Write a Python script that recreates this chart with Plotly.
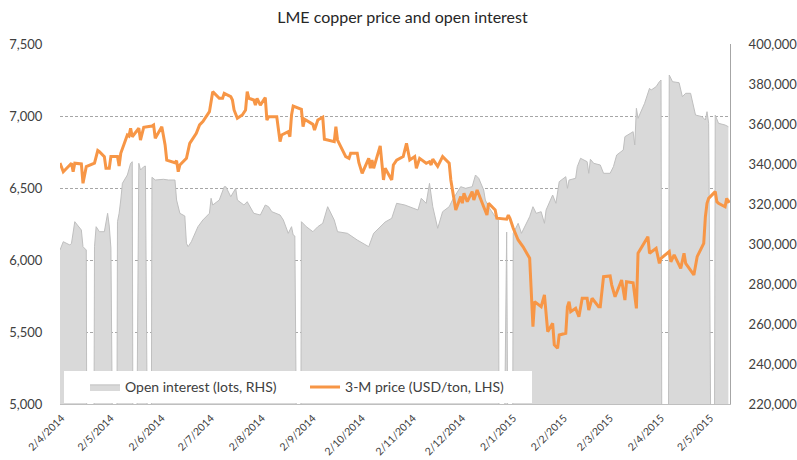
import plotly.graph_objects as go

# Open interest (lots), zeros on exchange holidays
oi_dates = [
    "2014-04-01", "2014-04-03", "2014-04-07", "2014-04-08", "2014-04-10", "2014-04-14", "2014-04-15", "2014-04-17",
    "2014-04-18", "2014-04-21",
    "2014-04-22", "2014-04-23", "2014-04-25", "2014-04-28", "2014-04-30", "2014-05-01", "2014-05-02",
    "2014-05-05",
    "2014-05-06", "2014-05-07", "2014-05-08", "2014-05-09", "2014-05-12", "2014-05-14", "2014-05-15",
    "2014-05-16",
    "2014-05-19", "2014-05-20", "2014-05-22", "2014-05-23",
    "2014-05-26",
    "2014-05-27", "2014-05-29", "2014-06-03", "2014-06-06", "2014-06-10", "2014-06-11", "2014-06-13",
    "2014-06-16", "2014-06-17", "2014-06-18", "2014-06-20", "2014-06-24", "2014-06-27", "2014-07-01",
    "2014-07-02", "2014-07-03", "2014-07-07", "2014-07-10", "2014-07-11", "2014-07-14", "2014-07-17",
    "2014-07-18", "2014-07-22", "2014-07-24", "2014-07-28", "2014-08-01", "2014-08-04", "2014-08-06",
    "2014-08-08", "2014-08-13", "2014-08-15", "2014-08-18", "2014-08-20", "2014-08-21", "2014-08-22",
    "2014-08-25",
    "2014-08-26", "2014-08-29", "2014-09-02", "2014-09-05", "2014-09-08", "2014-09-11", "2014-09-15",
    "2014-09-17", "2014-09-23", "2014-09-29", "2014-10-06", "2014-10-09", "2014-10-13", "2014-10-16",
    "2014-10-20", "2014-10-23", "2014-10-28", "2014-11-03", "2014-11-05", "2014-11-07", "2014-11-10",
    "2014-11-12", "2014-11-14", "2014-11-17", "2014-11-20", "2014-11-24", "2014-11-26", "2014-12-01",
    "2014-12-04", "2014-12-08", "2014-12-10", "2014-12-12", "2014-12-15", "2014-12-16", "2014-12-18",
    "2014-12-22", "2014-12-24",
    "2014-12-25", "2014-12-26",
    "2014-12-29",
    "2014-12-30", "2014-12-31", "2015-01-01",
    "2015-01-02", "2015-01-05", "2015-01-07", "2015-01-12", "2015-01-14", "2015-01-16", "2015-01-19",
    "2015-01-21", "2015-01-22", "2015-01-26", "2015-01-28", "2015-01-30", "2015-02-03", "2015-02-04",
    "2015-02-05", "2015-02-09", "2015-02-10", "2015-02-12", "2015-02-16", "2015-02-17", "2015-02-18",
    "2015-02-20", "2015-02-24", "2015-02-26", "2015-03-02", "2015-03-04", "2015-03-06", "2015-03-10",
    "2015-03-11", "2015-03-16", "2015-03-17", "2015-03-18", "2015-03-19", "2015-03-23", "2015-03-26",
    "2015-03-27", "2015-03-30", "2015-04-01", "2015-04-02",
    "2015-04-03", "2015-04-06",
    "2015-04-07", "2015-04-09", "2015-04-13", "2015-04-15", "2015-04-17", "2015-04-20", "2015-04-23",
    "2015-04-27", "2015-04-29", "2015-04-30", "2015-05-01",
    "2015-05-04",
    "2015-05-05", "2015-05-07", "2015-05-11", "2015-05-13",
]
oi_values = [
    297000, 301150, 299500, 300350, 311150, 307000, 298650, 297000,
    0, 0,
    298650, 308650, 306150, 306150, 315350, 309000, 298000,
    0,
    311150, 315350, 322000, 330350, 334500, 340350, 341150,
    0,
    340350, 337000, 338650, 339000,
    0,
    333350, 332000, 332350, 332000, 332000, 322000, 315350,
    314000, 300350, 298650, 301150, 308650, 312000, 315350,
    322850, 319500, 322000, 328650, 328650, 323650, 327850,
    322000, 319500, 321150, 315350, 314500, 319500, 318650,
    316150, 314500, 312000, 305350, 308650, 304500, 304000,
    0,
    311150, 308650, 306150, 308650, 310350, 318650, 312000,
    306150, 305350, 302000, 298650, 305350, 308650, 311000,
    312850, 320350, 319500, 317850, 317000, 322850, 320350,
    330350, 318650, 307850, 316150, 318650, 322000, 328650,
    327850, 328650, 334500, 332850, 327000, 322000, 318650,
    313650, 312000,
    0, 0,
    306000,
    0, 0, 0,
    305350, 310350, 305350, 313650, 318650, 315350, 316150,
    310350, 317000, 324500, 320350, 331150, 333650, 327850,
    332000, 332850, 338650, 342850, 341150, 335350, 342350,
    340350, 339500, 335350, 335350, 338650, 344500, 347000,
    353650, 356150, 349500, 367850, 362850, 370350, 377850,
    377000, 378650, 381150, 382000,
    0, 0,
    384500, 381150, 380650, 373650, 375350, 375350, 364500,
    363650, 362000, 366150, 360350,
    0,
    364500, 360350, 359500, 358650,
]

# 3-month LME copper price (USD/ton)
price_dates = [
    "2014-04-01", "2014-04-03", "2014-04-07", "2014-04-08", "2014-04-09", "2014-04-10", "2014-04-14", "2014-04-15",
    "2014-04-17", "2014-04-22", "2014-04-24", "2014-04-25", "2014-04-28", "2014-04-29", "2014-05-01", "2014-05-02",
    "2014-05-06", "2014-05-07", "2014-05-08", "2014-05-12", "2014-05-13", "2014-05-14", "2014-05-15", "2014-05-19",
    "2014-05-20", "2014-05-22", "2014-05-27", "2014-05-28", "2014-05-29", "2014-06-02", "2014-06-04", "2014-06-05",
    "2014-06-10", "2014-06-11", "2014-06-12", "2014-06-13", "2014-06-17", "2014-06-19", "2014-06-23", "2014-06-25",
    "2014-06-27", "2014-06-30", "2014-07-01", "2014-07-03", "2014-07-07", "2014-07-09", "2014-07-10", "2014-07-14",
    "2014-07-15", "2014-07-16", "2014-07-18", "2014-07-21", "2014-07-23", "2014-07-24", "2014-07-25", "2014-07-28",
    "2014-07-29", "2014-07-30", "2014-08-01", "2014-08-04", "2014-08-05", "2014-08-06", "2014-08-11", "2014-08-13",
    "2014-08-14", "2014-08-18", "2014-08-19", "2014-08-20", "2014-08-21", "2014-08-26", "2014-08-27", "2014-08-28",
    "2014-09-02", "2014-09-03", "2014-09-05", "2014-09-08", "2014-09-09", "2014-09-11", "2014-09-15", "2014-09-16",
    "2014-09-17", "2014-09-22", "2014-09-24", "2014-09-25", "2014-09-29", "2014-09-30", "2014-10-02", "2014-10-06",
    "2014-10-07", "2014-10-08", "2014-10-09", "2014-10-13", "2014-10-15", "2014-10-16", "2014-10-20", "2014-10-21",
    "2014-10-23", "2014-10-27", "2014-10-29", "2014-10-31", "2014-11-03", "2014-11-04", "2014-11-06", "2014-11-10",
    "2014-11-12", "2014-11-13", "2014-11-14", "2014-11-17", "2014-11-19", "2014-11-20", "2014-11-24", "2014-11-25",
    "2014-11-28", "2014-12-01", "2014-12-02", "2014-12-03", "2014-12-05", "2014-12-08", "2014-12-09", "2014-12-11",
    "2014-12-15", "2014-12-17", "2014-12-18", "2014-12-22", "2014-12-23", "2014-12-29", "2014-12-30", "2014-12-31",
    "2015-01-02", "2015-01-05", "2015-01-08", "2015-01-12", "2015-01-14", "2015-01-15", "2015-01-19", "2015-01-21",
    "2015-01-23", "2015-01-26", "2015-01-27", "2015-01-29", "2015-01-30", "2015-02-03", "2015-02-04", "2015-02-05",
    "2015-02-06", "2015-02-09", "2015-02-11", "2015-02-13", "2015-02-16", "2015-02-17", "2015-02-19", "2015-02-23",
    "2015-02-24", "2015-02-25", "2015-02-26", "2015-03-02", "2015-03-03", "2015-03-05", "2015-03-09", "2015-03-11",
    "2015-03-12", "2015-03-16", "2015-03-18", "2015-03-19", "2015-03-23", "2015-03-25", "2015-03-26", "2015-03-30",
    "2015-04-01", "2015-04-02", "2015-04-07", "2015-04-08", "2015-04-10", "2015-04-14", "2015-04-16", "2015-04-17",
    "2015-04-22", "2015-04-24", "2015-04-28", "2015-04-29", "2015-04-30", "2015-05-01", "2015-05-05", "2015-05-06",
    "2015-05-07", "2015-05-11", "2015-05-12", "2015-05-13", "2015-05-14",
]
price_values = [
    6674, 6613, 6660, 6672, 6613, 6672, 6667, 6533,
    6648, 6672, 6760, 6752, 6718, 6637, 6637, 6718,
    6718, 6653, 6741, 6868, 6861, 6915, 6856, 6915,
    6833, 6922, 6931, 6938, 6845, 6926, 6799, 6694,
    6676, 6690, 6613, 6660, 6706, 6810, 6880, 6938,
    6961, 7007, 7030, 7169, 7123, 7123, 7157, 7134,
    7111, 7042, 6984, 7007, 7042, 7169, 7123, 7111,
    7076, 7123, 7076, 7127, 6972, 6995, 6995, 6822,
    6868, 6891, 6856, 7007, 7069, 7046, 6926, 6977,
    6942, 6903, 6972, 6991, 6838, 6833, 6822, 6926,
    6833, 6718, 6706, 6741, 6741, 6676, 6602, 6706,
    6637, 6694, 6637, 6792, 6556, 6637, 6556, 6660,
    6694, 6718, 6810, 6694, 6718, 6637, 6706, 6672,
    6683, 6660, 6701, 6650, 6694, 6718, 6672, 6556,
    6347, 6440, 6394, 6463, 6405, 6475, 6417, 6486,
    6370, 6312, 6394, 6347, 6290, 6283, 6312, 6290,
    6220, 6139, 6092, 6012, 5537, 5711, 5676, 5757,
    5502, 5560, 5410, 5387, 5479, 5491, 5676, 5711,
    5641, 5664, 5606, 5734, 5734, 5653, 5734, 5676,
    5676, 5769, 5884, 5889, 5826, 5745, 5861, 5722,
    5849, 5842, 5664, 6047, 6127, 6162, 6047, 6081,
    5977, 6012, 6058, 5988, 6035, 5942, 6047, 5977,
    5896, 6023, 6116, 6300, 6394, 6428, 6475, 6405,
    6394, 6370, 6428, 6405, 6410,
]

FONT = "Lato, 'Open Sans', sans-serif"
TXT = "#404040"
OI_RANGE = [220000, 400000]

fig = go.Figure()

fig.add_trace(go.Scatter(
    x=oi_dates, y=oi_values, name="Open interest (lots, RHS)",
    mode="lines", fill="tozeroy", fillcolor="#d9d9d9",
    line=dict(color="#bfbfbf", width=1), yaxis="y", legend="legend",
))
fig.add_trace(go.Scatter(
    x=price_dates, y=price_values, name="3-M price (USD/ton, LHS)",
    mode="lines", line=dict(color="#f79646", width=3), yaxis="y2", legend="legend2",
))

legend_common = dict(
    orientation="h", xanchor="left", yanchor="bottom", y=0.002,
    bgcolor="white", borderwidth=0, font=dict(size=14, color=TXT, family=FONT),
    entrywidthmode="pixels",
)

fig.update_layout(
    width=797, height=460,
    margin=dict(l=60, r=67, t=44, b=56, autoexpand=False),
    paper_bgcolor="white", plot_bgcolor="white",
    font=dict(family=FONT, color=TXT, size=13),
    title=dict(text="LME copper price and open interest", x=0.505, xanchor="center",
               y=0.963, yanchor="middle", font=dict(size=16, color="#262626", family=FONT)),
    showlegend=True,
    legend=dict(legend_common, x=0.006, entrywidth=200, indentation=21),
    legend2=dict(legend_common, x=0.3657, entrywidth=182, indentation=0),
    xaxis=dict(
        type="date", range=["2014-04-01", "2015-05-14"], automargin=False,
        tick0="2014-04-02", dtick="M1", tickformat="%-d/%-m/%Y",
        tickangle=-45, tickfont=dict(size=10.5, color=TXT),
        showgrid=False, showline=True, linecolor="#bfbfbf", linewidth=1,
        ticks="outside", ticklen=3, tickcolor="rgba(0,0,0,0)",
        zeroline=False,
    ),
    yaxis=dict(
        side="right", range=OI_RANGE, dtick=20000, tickformat=",d", automargin=False,
        showgrid=False, zeroline=False, showline=True, linecolor="#a6a6a6", linewidth=1,
        ticks="outside", ticklen=15, tickcolor="rgba(0,0,0,0)",
        tickfont=dict(size=13, color=TXT),
    ),
    yaxis2=dict(
        side="left", overlaying="y", range=[5000, 7500], dtick=500, tickformat=",d", automargin=False,
        showgrid=True, gridcolor="#a6a6a6", griddash="3px,2px", gridwidth=1,
        zeroline=False, showline=False,
        ticks="outside", ticklen=14, tickcolor="rgba(0,0,0,0)",
        tickfont=dict(size=13, color=TXT),
    ),
    # visible short tick marks on the right axis
    yaxis3=dict(
        side="right", overlaying="y", range=OI_RANGE, dtick=20000, automargin=False,
        showgrid=False, zeroline=False, showline=False, showticklabels=False,
        ticks="outside", ticklen=5, tickcolor="#a6a6a6",
    ),
)

fig.write_html(
    "out.html",
    config={"displayModeBar": False},
    post_script="document.body.style.margin='0';document.body.style.overflow='hidden';",
)
